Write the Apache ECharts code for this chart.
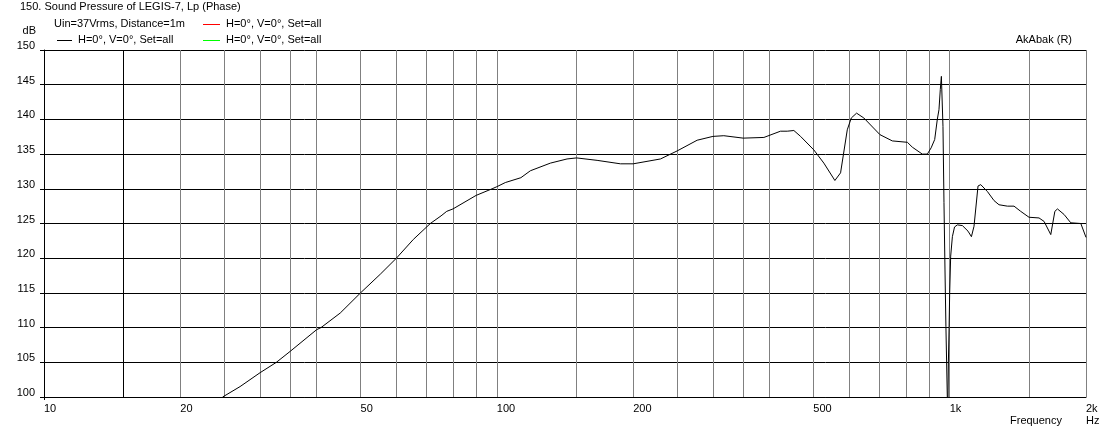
<!DOCTYPE html>
<html>
<head>
<meta charset="utf-8">
<script src="https://cdn.jsdelivr.net/npm/echarts@6/dist/echarts.min.js"></script>
<style>
html,body{margin:0;padding:0;background:#fff;}
#c{width:1112px;height:434px;}
</style>
</head>
<body>
<div id="c"></div>
<script>
// Frequencies in Hz
var freq = [24.8, 27.1, 30, 32.6, 35, 40, 40.9, 45.1, 50, 55.3, 60, 65.4, 71.3, 75.3, 77.5, 80, 90, 97.6, 100,
  104.4, 113, 118.6, 131.3, 142.9, 150, 166.5, 187.5, 200, 229.8, 250, 276.9, 300, 317.1, 350, 388.8, 423, 437.8,
  452.8, 468.5, 501.2, 527.4, 557.8, 574.2, 594.1, 606.3, 622.9, 646.4, 701.5, 747, 806.4, 827, 870, 892.7, 910,
  926.6, 939, 947, 953.4, 958.7, 966.5, 971.4, 976.4, 981, 988, 990, 992, 993.4, 997, 1000, 1005.1, 1013.8, 1025,
  1040, 1066.8, 1097.6, 1116.8, 1131.7, 1155, 1171, 1211.6, 1253, 1285, 1341, 1387, 1435, 1497, 1575, 1616, 1672,
  1707, 1730, 1789, 1851, 1948, 2000];
// Sound pressure level in dB
var spl = [100, 101.5, 103.5, 105, 106.6, 109.7, 110, 112.1, 115, 117.7, 120, 122.7, 125, 126.1, 126.75, 127.1, 129.05, 130, 130.3,
  130.9, 131.6, 132.6, 133.7, 134.3, 134.45, 134.1, 133.6, 133.6, 134.3, 135.45, 137.0, 137.55, 137.65, 137.3, 137.4, 138.3, 138.3,
  138.4, 137.55, 135.6, 133.7, 131.2, 132.3, 138.5, 140.2, 140.9, 140.2, 137.8, 136.9, 136.7, 136.0, 135.0, 135.0, 135.9,
  137.1, 140.0, 141.4, 144.3, 146.2, 139, 128, 118.3, 110.2, 100, 93, 101, 105, 110, 115, 120.3, 123.1, 124.5,
  124.8, 124.7, 123.9, 123.1, 124.6, 130.4, 130.6, 129.6, 128.3, 127.7, 127.5, 127.5, 126.75, 125.9, 125.8, 125.3, 123.4,
  126.75, 127.1, 126.3, 125.1, 125.0, 123.0];
var yTicks = [100, 105, 110, 115, 120, 125, 130, 135, 140, 145, 150];
var xLabelValues = [10, 20, 50, 100, 200, 500, 1000, 2000];
var xLabelTexts = ['10', '20', '50', '100', '200', '500', '1k', '2k'];
var gridFreqs = [15, 20, 25, 30, 35, 40, 50, 60, 70, 80, 90, 100, 150, 200, 250, 300, 350, 400, 500, 600, 700, 800, 900, 1000, 1500, 2000];
var markerFreqs = [15];

var FONT = "'Liberation Sans', Arial, sans-serif";
var chart = echarts.init(document.getElementById('c'), null, {renderer: 'canvas'});

var curve = freq.map(function (f, i) { return [f, spl[i]]; });
var vLines = gridFreqs.map(function (f) {
  var black = markerFreqs.indexOf(f) >= 0;
  return {xAxis: f, lineStyle: {color: black ? '#000000' : '#808080', width: 1, type: 'solid'}};
});

var option = {
  animation: false,
  backgroundColor: '#ffffff',
  textStyle: {fontFamily: FONT},
  grid: {left: 44, right: 26, top: 50, bottom: 37, containLabel: false},
  xAxis: {
    type: 'log', logBase: 10, min: 10, max: 2000,
    axisLine: {show: true, lineStyle: {color: '#000', width: 1}},
    axisTick: {show: true, customValues: [10], length: 3, lineStyle: {color: '#000'}},
    splitLine: {show: false},
    minorTick: {show: false}, minorSplitLine: {show: false},
    axisLabel: {
      show: true, customValues: xLabelValues, align: 'left', margin: 6,
      color: '#000', fontSize: 11, fontFamily: FONT,
      formatter: function (v) {
        var i = xLabelValues.indexOf(Math.round(v));
        return i >= 0 ? xLabelTexts[i] : '';
      }
    }
  },
  yAxis: {
    type: 'value', min: 100, max: 150, interval: 5,
    axisLine: {show: true, lineStyle: {color: '#000', width: 1}},
    axisTick: {show: true, length: 4, lineStyle: {color: '#000'}},
    splitLine: {show: true, lineStyle: {color: '#000', width: 1}},
    axisLabel: {color: '#000', fontSize: 11, fontFamily: FONT, margin: 9, verticalAlign: 'bottom', lineHeight: 8}
  },
  series: [
    {
      type: 'line', name: 'grid', data: [], z: 1, silent: true,
      markLine: {silent: true, symbol: ['none', 'none'], label: {show: false}, animation: false, data: vLines}
    },
    {
      type: 'line', name: 'H=0°, V=0°, Set=all', data: curve, z: 5, showSymbol: false, symbol: 'none',
      clip: true, lineStyle: {color: '#000', width: 1}, silent: true
    }
  ],
  graphic: [
    {type: 'text', left: 20, top: 1, style: {text: '150. Sound Pressure of LEGIS-7, Lp (Phase)', font: '11px ' + FONT, fill: '#000'}},
    {type: 'text', left: 54, top: 18, style: {text: 'Uin=37Vrms, Distance=1m', font: '11px ' + FONT, fill: '#000'}},
    {type: 'line', shape: {x1: 203, y1: 24.5, x2: 220, y2: 24.5}, style: {stroke: '#ff0000', lineWidth: 1}},
    {type: 'text', left: 226, top: 18, style: {text: 'H=0°, V=0°, Set=all', font: '11px ' + FONT, fill: '#000'}},
    {type: 'line', shape: {x1: 57, y1: 40.5, x2: 72, y2: 40.5}, style: {stroke: '#000000', lineWidth: 1}},
    {type: 'text', left: 78, top: 34, style: {text: 'H=0°, V=0°, Set=all', font: '11px ' + FONT, fill: '#000'}},
    {type: 'line', shape: {x1: 203, y1: 40.5, x2: 220, y2: 40.5}, style: {stroke: '#00ff00', lineWidth: 1}},
    {type: 'text', left: 226, top: 34, style: {text: 'H=0°, V=0°, Set=all', font: '11px ' + FONT, fill: '#000'}},
    {type: 'text', right: 1112 - 36, top: 25, style: {text: 'dB', font: '11px ' + FONT, fill: '#000'}},
    {type: 'text', right: 1112 - 1072, top: 34, style: {text: 'AkAbak (R)', font: '11px ' + FONT, fill: '#000'}},
    {type: 'text', left: 1010, top: 415, style: {text: 'Frequency', font: '11px ' + FONT, fill: '#000'}},
    {type: 'text', left: 1086, top: 415, style: {text: 'Hz', font: '11px ' + FONT, fill: '#000'}}
  ]
};
chart.setOption(option);
</script>
</body>
</html>
